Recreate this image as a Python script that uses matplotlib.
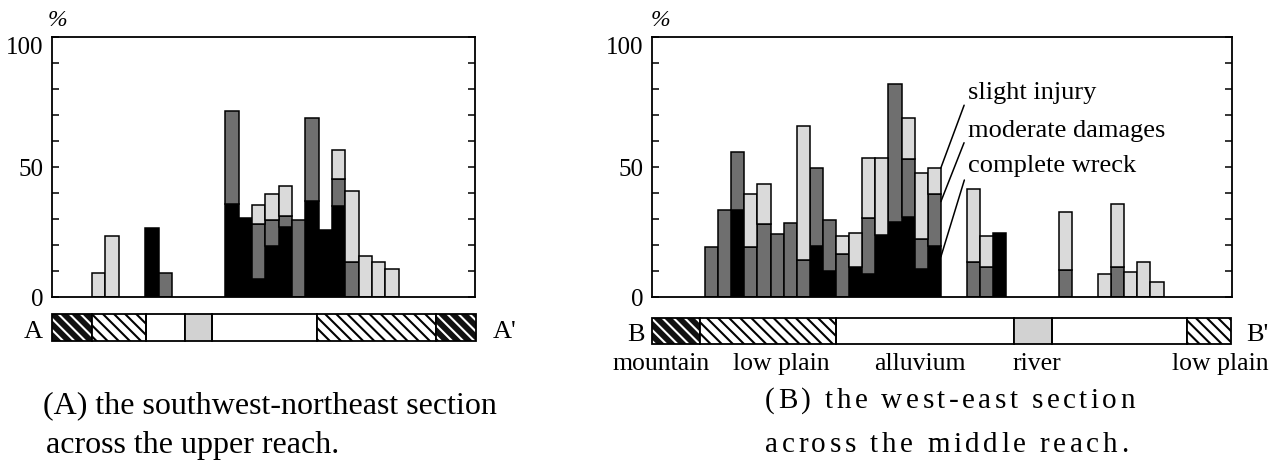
import numpy as np
import matplotlib
matplotlib.use("Agg")
import matplotlib.pyplot as plt
from matplotlib.patches import Rectangle

plt.rcParams['font.family'] = ['Liberation Serif', 'DejaVu Serif']
plt.rcParams['hatch.linewidth'] = 1.5

# ---- data (percent of houses per damage class, one value per slot along the section) ----
# (A) southwest-northeast section, upper reach
a_complete = [0, 0, 0, 0, 0, 0, 0, 26.5, 0, 0, 0, 0, 0, 36.0, 30.6, 7.1, 19.9, 27.0,
              0, 37.0, 25.7, 35.0, 0, 0, 0, 0]
a_moderate = [0, 0, 0, 0, 0, 0, 0, 0, 9.3, 0, 0, 0, 0, 35.7, 0, 20.9, 9.7, 4.1,
              29.6, 31.8, 0, 10.4, 13.4, 0, 0, 0]
a_slight = [0, 0, 0, 9.3, 23.4, 0, 0, 0, 0, 0, 0, 0, 0, 0, 0, 7.3, 10.2, 11.6,
            0, 0, 0, 11.2, 27.3, 15.7, 13.5, 10.8]

# (B) west-east section, middle reach
b_complete = [0, 0, 33.7, 0, 0, 0, 0, 0, 19.9, 10.0, 0, 11.8, 9.0, 23.8, 28.9, 30.8, 10.9, 19.9,
              0, 0, 0, 0, 24.8, 0, 0, 0, 0, 0, 0, 0, 0, 0, 0, 0, 0]
b_moderate = [19.5, 33.7, 22.0, 19.5, 28.3, 24.4, 28.5, 14.4, 29.6, 19.6, 16.5, 0, 21.5, 0, 53.1, 22.5, 11.6, 19.6,
              0, 0, 13.7, 11.5, 0, 0, 0, 0, 0, 10.5, 0, 0, 0, 11.5, 0, 0, 0]
b_slight = [0, 0, 0, 20.3, 15.4, 0, 0, 51.4, 0, 0, 6.9, 12.9, 23.2, 29.9, 0, 15.7, 25.1, 10.2,
            0, 0, 27.9, 12.1, 0, 0, 0, 0, 0, 22.2, 0, 0, 9.0, 24.2, 9.6, 13.7, 5.8]

damage_labels = ["slight injury", "moderate damages", "complete wreck"]

# landform strips below the charts (fraction of section length)
a_strip_edges = [0, 0.096, 0.2215, 0.314, 0.377, 0.6245, 0.905, 1.0]
a_strip_kinds = ["mountain", "low plain", "alluvium", "river", "alluvium", "low plain", "mountain"]
b_strip_edges = [0, 0.0834, 0.318, 0.626, 0.691, 0.924, 1.0]
b_strip_kinds = ["mountain", "low plain", "alluvium", "river", "alluvium", "low plain"]
b_strip_names = ["mountain", "low plain", "alluvium", "river", "low plain"]
b_name_pos = [0.016, 0.223, 0.463, 0.665, 0.9815]

W, H = 1276, 468
BLACK, DARK, LIGHT, RIVER = "#000000", "#6f6f6f", "#dadada", "#d2d2d2"

fig = plt.figure(figsize=(W / 100, H / 100), dpi=100)


def px_axes(x0, y0, x1, y1):
    return fig.add_axes([x0 / W, 1 - y1 / H, (x1 - x0) / W, (y1 - y0) / H])


def draw_bars(ax, complete, moderate, slight):
    c, m, s = np.array(complete), np.array(moderate), np.array(slight)
    x = np.arange(len(c))
    for vals, bottom, col in [(c, np.zeros_like(c), BLACK), (m, c, DARK), (s, c + m, LIGHT)]:
        k = vals > 0
        ax.bar(x[k], vals[k], bottom=bottom[k], width=1, align="edge",
               color=col, edgecolor="black", linewidth=1.1)
    ax.set_ylim(0, 100)
    ax.set_yticks([0, 50, 100])
    ax.set_yticks(range(0, 101, 10), minor=True)
    ax.set_xticks([])
    ax.tick_params(which="both", direction="in", left=True, right=True,
                   length=5, width=1.1, labelsize=18, pad=6)
    ax.yaxis.get_major_ticks()[2].label1.set_va("top")
    for sp in ax.spines.values():
        sp.set_linewidth(1.3)


def draw_strip(ax, edges, kinds):
    ax.set_xlim(0, 1)
    ax.set_ylim(0, 1)
    ax.axis("off")
    for a, b, kind in zip(edges[:-1], edges[1:], kinds):
        if kind == "mountain":
            ax.add_patch(Rectangle((a, 0), b - a, 1, facecolor="#111111", edgecolor="white",
                                   hatch="\\\\\\", lw=0))
        elif kind == "low plain":
            ax.add_patch(Rectangle((a, 0), b - a, 1, facecolor="white", edgecolor="black",
                                   hatch="\\\\\\", lw=0))
        elif kind == "river":
            ax.add_patch(Rectangle((a, 0), b - a, 1, facecolor=RIVER, lw=0))
        ax.add_patch(Rectangle((a, 0), b - a, 1, fill=False, edgecolor="black", lw=1.3,
                               clip_on=False))


def spaced_text(x0, x1, y, s, size):
    # letter-spaced line of text stretched between x0 and x1 (pixels)
    r = fig.canvas.get_renderer()

    def width(t):
        tmp = fig.text(0, 0, t, fontsize=size)
        w = tmp.get_window_extent(r).width
        tmp.remove()
        return w

    extra = (x1 - x0 - width(s)) / (len(s) - 1)
    for i, ch in enumerate(s):
        if ch == " ":
            continue
        left = width(s[:i + 1]) - width(ch)
        fig.text((x0 + left + i * extra) / W, 1 - y / H, ch, fontsize=size, va="baseline")


# ---- (A) ----
axA = px_axes(52, 37, 475.3, 297.3)
draw_bars(axA, a_complete, a_moderate, a_slight)
axA.set_xlim(0, 31.75)
fig.text(57 / W, 1 - 21 / H, "%", fontsize=17, style="italic", ha="center", va="center")

sA = px_axes(51.7, 314, 476, 340.7)
draw_strip(sA, a_strip_edges, a_strip_kinds)
fig.text(33 / W, 1 - 338 / H, "A", fontsize=19, ha="center", va="baseline")
fig.text(493 / W, 1 - 338 / H, "A'", fontsize=19, ha="left", va="baseline")

fig.text(43 / W, 1 - 413 / H, "(A) the southwest-northeast section", fontsize=23, va="baseline")
fig.text(46 / W, 1 - 453 / H, "across the upper reach.", fontsize=23, va="baseline")

# ---- (B) ----
axB = px_axes(651.7, 37, 1231.7, 297.3)
draw_bars(axB, b_complete, b_moderate, b_slight)
axB.set_xlim(-4.07, 40.2)
fig.text(660 / W, 1 - 20 / H, "%", fontsize=17, style="italic", ha="center", va="center")

c = np.array(b_complete)
m = np.array(b_moderate)
s = np.array(b_slight)
i = 17  # last bar of the main cluster carries the legend leaders
starts = [c[i] + m[i] + s[i], c[i] + 0.86 * m[i], 0.78 * c[i]]
for lab, y0, yt in zip(damage_labels, starts, [78.6, 64.0, 50.5]):
    axB.annotate(lab, xy=(i + 1, y0), xytext=(20.1, yt), fontsize=19, va="center",
                 arrowprops=dict(arrowstyle="-", lw=1.1, color="black",
                                 shrinkA=3, shrinkB=0, relpos=(0, 0.45)))

sB = px_axes(651.7, 317.7, 1230.7, 344.3)
draw_strip(sB, b_strip_edges, b_strip_kinds)
for name, xp in zip(b_strip_names, b_name_pos):
    sB.text(xp, -0.97, name, fontsize=18.5, ha="center", va="baseline", transform=sB.transAxes)
fig.text(636 / W, 1 - 341 / H, "B", fontsize=19, ha="center", va="baseline")
fig.text(1246 / W, 1 - 341 / H, "B'", fontsize=19, ha="left", va="baseline")

spaced_text(765, 1135, 408, "(B) the west-east section", 21)
spaced_text(765, 1128, 452, "across the middle reach.", 21)

fig.savefig("out.png", dpi=100)
